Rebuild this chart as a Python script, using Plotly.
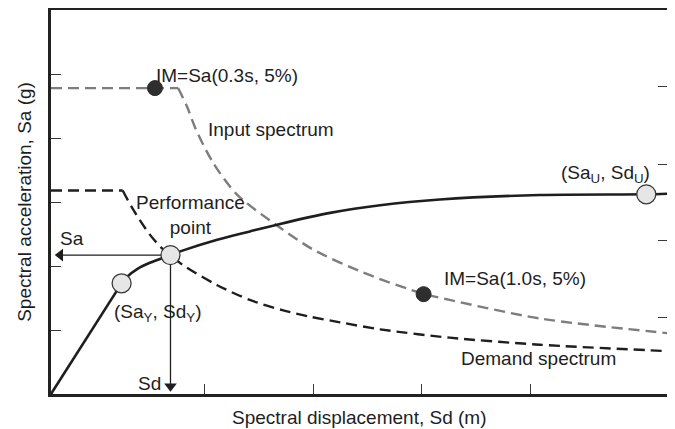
import plotly.graph_objects as go

# ---------------- data (schematic units) ----------------
# Input spectrum (grey dashed): plateau + descending branch
input_plateau_x = [0.0, 1.17]
input_plateau_y = [4.78, 4.78]
input_curve_x = [1.17, 1.25, 1.33, 1.49, 1.71, 2.09, 2.41, 2.87, 3.42, 3.67, 4.50, 5.68]
input_curve_y = [4.78, 4.50, 4.15, 3.62, 3.12, 2.62, 2.26, 1.90, 1.57, 1.47, 1.18, 0.95]

# Demand spectrum (dark dashed)
demand_plateau_x = [0.0, 0.66]
demand_plateau_y = [3.18, 3.18]
demand_curve_x = [0.66, 0.75, 0.91, 1.02, 1.10, 1.21, 1.53, 1.83, 2.13, 2.38, 2.66, 3.03, 3.67, 4.50, 5.68]
demand_curve_y = [3.18, 2.90, 2.49, 2.28, 2.17, 2.02, 1.70, 1.47, 1.31, 1.21, 1.12, 1.01, 0.88, 0.77, 0.67]

# Capacity curve (solid)
capacity_lin_x = [0.0, 0.62]
capacity_lin_y = [0.0, 1.65]
capacity_curve_x = [0.62, 0.70, 0.80, 0.91, 1.10, 1.21, 1.53, 1.83, 2.09, 2.57, 3.03, 3.58, 4.50, 5.48, 5.68]
capacity_curve_y = [1.65, 1.83, 1.96, 2.05, 2.17, 2.24, 2.41, 2.54, 2.65, 2.83, 2.95, 3.04, 3.11, 3.12, 3.13]

# Key points
open_pts_x = [0.65, 1.10, 5.48]   # yield, performance, ultimate
open_pts_y = [1.73, 2.17, 3.12]
im_pts_x = [0.957, 3.43]
im_pts_y = [4.78, 1.56]

perf_x, perf_y = 1.10, 2.17

# Axis ticks
x_ticks = [1.417, 2.42, 3.41, 4.41]
y_left_ticks = [1, 2, 3, 4, 5]
y_right_ticks = [1.19, 2.40, 3.59, 4.80]
X_RANGE = [0, 5.68]
Y_RANGE = [0, 6.0]

FONT = "Arial, Liberation Sans, Helvetica, sans-serif"
TXT = "#1e1e1e"
FS = 19

fig = go.Figure()

grey = "#7d7d7d"
dark = "#1e1e1e"
dash = "11px,6px"

fig.add_trace(go.Scatter(x=input_plateau_x, y=input_plateau_y, mode="lines",
                         line=dict(color=grey, width=2.4, dash=dash), hoverinfo="skip"))
fig.add_trace(go.Scatter(x=input_curve_x, y=input_curve_y, mode="lines",
                         line=dict(color=grey, width=2.4, dash=dash, shape="spline", smoothing=0.8),
                         hoverinfo="skip"))
fig.add_trace(go.Scatter(x=demand_plateau_x, y=demand_plateau_y, mode="lines",
                         line=dict(color=dark, width=2.4, dash=dash), hoverinfo="skip"))
fig.add_trace(go.Scatter(x=demand_curve_x, y=demand_curve_y, mode="lines",
                         line=dict(color=dark, width=2.4, dash=dash, shape="spline", smoothing=0.8),
                         hoverinfo="skip"))
fig.add_trace(go.Scatter(x=capacity_lin_x, y=capacity_lin_y, mode="lines",
                         line=dict(color=dark, width=2.6), hoverinfo="skip"))
fig.add_trace(go.Scatter(x=capacity_curve_x, y=capacity_curve_y, mode="lines",
                         line=dict(color=dark, width=2.6, shape="spline", smoothing=0.8),
                         hoverinfo="skip"))

# arrows from the performance point to the axes
fig.add_trace(go.Scatter(x=[perf_x, 0.06], y=[perf_y, perf_y], mode="lines",
                         line=dict(color=dark, width=1.3), hoverinfo="skip"))
fig.add_trace(go.Scatter(x=[perf_x, perf_x], y=[perf_y, 0.1], mode="lines",
                         line=dict(color=dark, width=1.3), hoverinfo="skip"))
fig.add_trace(go.Scatter(x=[0.085], y=[perf_y], mode="markers",
                         marker=dict(symbol="triangle-left", size=11, color=dark), hoverinfo="skip"))
fig.add_trace(go.Scatter(x=[perf_x], y=[0.12], mode="markers",
                         marker=dict(symbol="triangle-down", size=11, color=dark), hoverinfo="skip"))

fig.add_trace(go.Scatter(x=open_pts_x, y=open_pts_y, mode="markers",
                         marker=dict(size=19, color="#e6e6e6", line=dict(color="#3a3a3a", width=1.3)),
                         hoverinfo="skip"))
fig.add_trace(go.Scatter(x=im_pts_x, y=im_pts_y, mode="markers",
                         marker=dict(size=15, color="#2e2e2e", line=dict(color="#2e2e2e", width=1)),
                         hoverinfo="skip"))

# invisible trace for right-hand axis
fig.add_trace(go.Scatter(x=[0], y=[0], yaxis="y2", mode="markers",
                         marker=dict(opacity=0), hoverinfo="skip"))

def label(x, y, text, xanchor="left", size=FS):
    fig.add_annotation(x=x, y=y, xref="x", yref="y", text=text, showarrow=False,
                       xanchor=xanchor, yanchor="middle",
                       font=dict(family=FONT, size=size, color=TXT))

label(0.95, 4.97, "IM=Sa(0.3s, 5%)")
label(1.43, 4.13, "Input spectrum")
label(1.28, 2.79, "Performance<br>point", xanchor="center")
label(0.065, 2.43, "Sa")
label(0.56, 1.26, "(Sa<sub>Y</sub>, Sd<sub>Y</sub>)")
label(1.03, 0.17, "Sd", xanchor="right")
label(3.60, 1.81, "IM=Sa(1.0s, 5%)")
label(3.76, 0.56, "Demand spectrum")
label(5.53, 3.44, "(Sa<sub>U</sub>, Sd<sub>U</sub>)", xanchor="right")

# axis titles
fig.add_annotation(x=0.5, y=-0.062, xref="paper", yref="paper", text="Spectral displacement, Sd (m)",
                   showarrow=False, xanchor="center", yanchor="middle",
                   font=dict(family=FONT, size=FS, color=TXT))
fig.add_annotation(x=-0.044, y=0.5, xref="paper", yref="paper", text="Spectral acceleration, Sa (g)",
                   showarrow=False, xanchor="center", yanchor="middle", textangle=-90,
                   font=dict(family=FONT, size=FS, color=TXT))

axis_common = dict(showgrid=False, zeroline=False, showticklabels=False, automargin=False,
                   ticks="inside", ticklen=10, tickwidth=1.4, tickcolor="#3a3a3a")

# the page body adds an 8px offset, so the figure is sized/margined to compensate
fig.update_layout(
    width=667, height=422,
    margin=dict(l=43, r=7, t=2, b=36, autoexpand=False),
    paper_bgcolor="white", plot_bgcolor="white",
    showlegend=False,
    font=dict(family=FONT, color=TXT),
    xaxis=dict(range=X_RANGE, tickvals=x_ticks, showline=True, linewidth=2.8, linecolor="#222",
               mirror=True, **axis_common),
    yaxis=dict(range=Y_RANGE, tickvals=y_left_ticks, showline=True, linewidth=2.8, linecolor="#222",
               mirror=True, **axis_common),
    yaxis2=dict(range=Y_RANGE, tickvals=y_right_ticks, overlaying="y", side="right",
                showline=False, **axis_common),
)

fig.write_html("out.html")
